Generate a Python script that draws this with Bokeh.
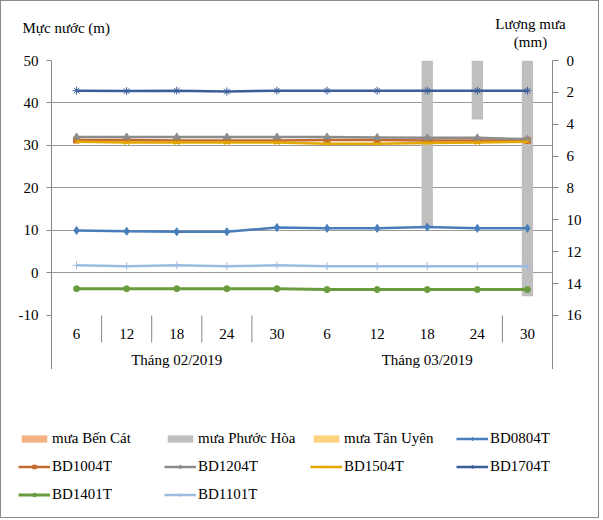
from bokeh.plotting import figure
from bokeh.layouts import column
from bokeh.models import Range1d, LinearAxis, FixedTicker, Legend, LegendItem
from bokeh.core.properties import value
from bokeh.embed import file_html
from bokeh.resources import INLINE

# ---------------- data ----------------
day_labels = ["6", "12", "18", "24", "30", "6", "12", "18", "24", "30"]
month_labels = ["Tháng 02/2019", "Tháng 03/2019"]

rain_ben_cat = [0, 0, 0, 0, 0, 0, 0, 0, 0, 0]
rain_phuoc_hoa = [0, 0, 0, 0, 0, 0, 0, 10.4, 3.7, 14.8]
rain_tan_uyen = [0, 0, 0, 0, 0, 0, 0, 0, 0, 0]

bd0804t = [10.0, 9.8, 9.7, 9.7, 10.7, 10.5, 10.5, 10.8, 10.5, 10.5]
bd1004t = [31.3, 31.3, 31.2, 31.2, 31.2, 31.3, 31.3, 31.2, 31.2, 31.2]
bd1204t = [32.0, 32.0, 32.0, 32.0, 32.0, 32.0, 31.9, 31.8, 31.8, 31.5]
bd1504t = [30.9, 30.7, 30.7, 30.7, 30.7, 30.4, 30.4, 30.6, 30.7, 30.9]
bd1704t = [42.9, 42.8, 42.9, 42.7, 42.9, 42.9, 42.9, 42.9, 42.9, 42.9]
bd1401t = [-3.7, -3.7, -3.7, -3.7, -3.7, -3.9, -3.9, -3.9, -3.9, -3.9]
bd1101t = [1.8, 1.6, 1.8, 1.6, 1.8, 1.6, 1.6, 1.6, 1.6, 1.6]

left_ticks = [-10, 0, 10, 20, 30, 40, 50]
grid_ticks = [0, 10, 20, 30, 40]
right_ticks = [0, 2, 4, 6, 8, 10, 12, 14, 16]

left_title = "Mực nước (m)"
right_title = ["Lượng mưa", "(mm)"]
rain_names = ["mưa Bến Cát", "mưa Phước Hòa", "mưa Tân Uyên"]

FONT = "Liberation Serif"
FS = "15px"
AXC = "#868686"
n = len(day_labels)
centers = [i + 0.5 for i in range(n)]

W = 597
TOP_H = 50
MAIN_H = 318
BOT_H = 148


def bare(fig):
    fig.grid.visible = False
    fig.outline_line_color = None
    fig.background_fill_color = "white"
    fig.border_fill_color = "white"


# ---------------- title strip ----------------
top = figure(width=W, height=TOP_H, x_range=Range1d(0, W), y_range=Range1d(TOP_H, 0),
             min_border=0, x_axis_location=None, y_axis_location=None,
             frame_align=False,
             output_backend="svg", toolbar_location=None)
bare(top)
top.text(x=[21], y=[26], text=[left_title], text_font=value(FONT),
         text_font_size=FS, text_color="black", text_align="left",
         text_baseline="middle")
top.text(x=[529, 529], y=[22, 40], text=right_title, text_font=value(FONT),
         text_font_size=FS, text_color="black", text_align="center",
         text_baseline="middle")

# ---------------- main chart ----------------
p = figure(width=W, height=MAIN_H, frame_width=501, frame_height=309,
           min_border_left=50, min_border_right=46, min_border_top=9,
           min_border_bottom=0, frame_align=False,
           x_range=Range1d(0, n), y_range=Range1d(-22.71, 50),
           x_axis_location=None,
           output_backend="svg", toolbar_location=None)
p.extra_y_ranges = {"rain": Range1d(19.39, 0)}
p.background_fill_color = "white"
p.border_fill_color = "white"
p.outline_line_color = None

p.xgrid.visible = False
p.ygrid.ticker = FixedTicker(ticks=grid_ticks)
p.ygrid.grid_line_color = "#9a9a9a"
p.ygrid.grid_line_width = 1

ya = p.yaxis[0]
ya.ticker = FixedTicker(ticks=left_ticks)
ya.major_label_overrides = {t: str(t) for t in left_ticks}
ya.axis_line_color = AXC
ya.major_tick_line_color = AXC
ya.major_tick_out = 5
ya.major_tick_in = 0
ya.minor_tick_line_color = None
ya.major_label_standoff = 8
ya.major_label_text_font = FONT
ya.major_label_text_font_size = FS
ya.major_label_text_color = "black"

ra = LinearAxis(y_range_name="rain", ticker=FixedTicker(ticks=right_ticks))
ra.axis_line_color = AXC
ra.major_tick_line_color = AXC
ra.major_tick_out = 6
ra.major_tick_in = 0
ra.minor_tick_line_color = None
ra.major_label_standoff = 8
ra.major_label_text_font = FONT
ra.major_label_text_font_size = FS
ra.major_label_text_color = "black"
p.add_layout(ra, "right")

# category labels & separators (inside the extended lower part of the frame)
p.text(x=centers, y=[-14.24] * n, text=day_labels, text_font=value(FONT),
       text_font_size=FS, text_color="black", text_align="center",
       text_baseline="middle")
p.text(x=[2.5, 7.5], y=[-20.59, -20.59], text=month_labels,
       text_font=value(FONT), text_font_size=FS, text_color="black",
       text_align="center", text_baseline="middle")
sep = [1, 2, 3, 4, 9]
p.segment(x0=sep, y0=[-10] * len(sep), x1=sep, y1=[-16.35] * len(sep),
          line_color=AXC, line_width=1)

# rain bars (right axis, reversed)
bw = 0.225
rain_series = [
    (rain_names[0], rain_ben_cat, -bw, "#F4B183"),
    (rain_names[1], rain_phuoc_hoa, 0.0, "#BFBFBF"),
    (rain_names[2], rain_tan_uyen, bw, "#FFD27F"),
]
for name, vals, off, col in rain_series:
    p.vbar(x=[c + off for c in centers], top=vals, bottom=0, width=bw,
           y_range_name="rain", fill_color=col, line_color=None)

series = [
    ("BD0804T", bd0804t, "#4a7ebb", "diamond", 8, 2.5),
    ("BD1004T", bd1004t, "#c46a2e", "square", 6, 2.5),
    ("BD1204T", bd1204t, "#8c8c8c", "triangle", 7, 2.5),
    ("BD1504T", bd1504t, "#e3a800", "x", 7, 2.5),
    ("BD1704T", bd1704t, "#3b5e99", "asterisk", 8, 2.5),
    ("BD1401T", bd1401t, "#6a9b3e", "circle", 6, 3),
    ("BD1101T", bd1101t, "#9cbde0", "cross", 8, 2.5),
]
for name, vals, col, mk, sz, lw in series:
    p.line(x=centers, y=vals, line_color=col, line_width=lw)
    p.scatter(x=centers, y=vals, marker=mk, size=sz, fill_color=col,
              line_color=col, line_width=1)

# ---------------- legend strip ----------------
bot = figure(width=W, height=BOT_H, x_range=Range1d(0, W), y_range=Range1d(0, BOT_H),
             min_border=0, x_axis_location=None, y_axis_location=None,
             frame_align=False,
             output_backend="svg", toolbar_location=None)
bare(bot)
items = []
for name, vals, off, col in rain_series:
    r = bot.vbar(x=centers, top=vals, bottom=0, width=bw, fill_color=col,
                 line_color=None, visible=False)
    items.append(LegendItem(label=name, renderers=[r]))
for name, vals, col, mk, sz, lw in series:
    lr = bot.line(x=centers, y=vals, line_color=col, line_width=lw, visible=False)
    sr = bot.scatter(x=centers, y=vals, marker=mk, size=sz, fill_color=col,
                     line_color=col, line_width=1, visible=False)
    items.append(LegendItem(label=name, renderers=[lr, sr]))

legend = Legend(items=items, orientation="horizontal", nrows=3, location=(17, 11),
                glyph_width=32, glyph_height=9, label_standoff=2,
                label_width=108, label_height=24, spacing=4,
                padding=0, margin=0, border_line_color=None,
                background_fill_alpha=0, inactive_fill_alpha=0,
                label_text_font=FONT, label_text_font_size=FS,
                label_text_color="black")
bot.add_layout(legend, "center")

layout = column(top, p, bot, spacing=0, styles={"border": "1px solid #8a8a8a"})
open("out.html", "w").write(file_html(layout, INLINE))
